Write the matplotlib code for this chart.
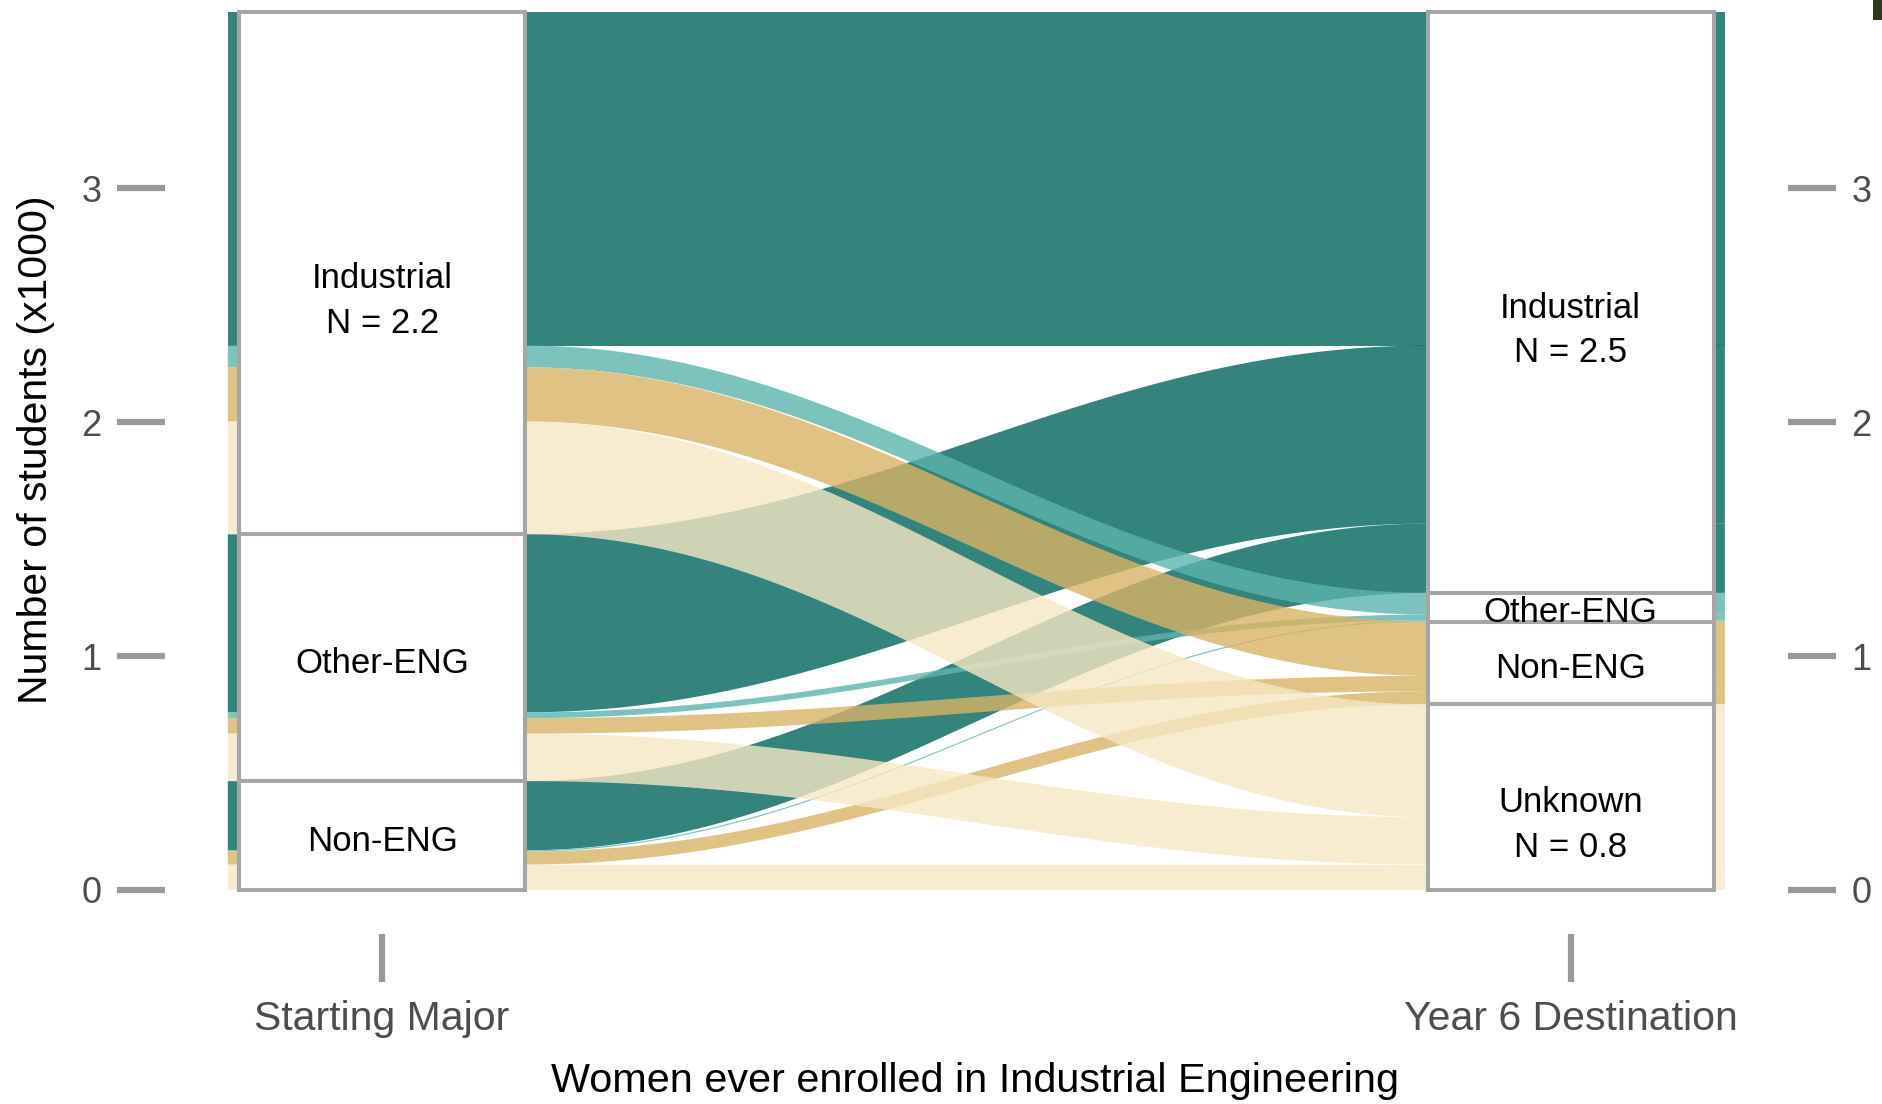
#!/usr/bin/env python3
"""
Alluvial chart: starting major vs. year-6 destination for women
ever enrolled in Industrial Engineering.
"""

import numpy as np
import matplotlib
matplotlib.use("Agg")
import matplotlib.pyplot as plt
from matplotlib.patches import Rectangle, Polygon

# Data (thousands of students)
axis_labels = ["Starting Major", "Year 6 Destination"]
start_majors = ["Industrial", "Other-ENG", "Non-ENG"]
destinations = ["Industrial", "Other-ENG", "Non-ENG", "Unknown"]

# flows out of each starting major, split by destination (same order as destinations)
from_industrial = [1.427, 0.093, 0.232, 0.482]
from_other_eng = [0.762, 0.025, 0.066, 0.203]
from_non_eng = [0.296, 0.005, 0.056, 0.108]

dest_colors = ["#01665E", "#5AB4AC", "#D8B365", "#F6E8C3"]
labelled_strata = ["Industrial", "Unknown"]
y_ticks = [0, 1, 2, 3]


def stack_from_top(sizes, top):
    """Return tops and bottoms of blocks stacked downward from `top`."""
    sizes = np.asarray(sizes, dtype=float)
    tops = top - np.concatenate([[0.0], np.cumsum(sizes)[:-1]])
    return tops, tops - sizes


def bezier(p0, p1, p2, p3, t):
    return ((1 - t) ** 3) * p0 + 3 * ((1 - t) ** 2) * t * p1 \
        + 3 * (1 - t) * t ** 2 * p2 + t ** 3 * p3


def ribbon(x_in, x_out, knot, yl_top, yl_bot, yr_top, yr_bot):
    """Polygon vertices for one flow between the two axes."""
    t = np.linspace(0, 1, 300)
    x0, x1 = x_in
    span = x1 - x0
    xs = bezier(x0, x0 + knot * span, x1 - knot * span, x1, t)
    top = bezier(yl_top, yl_top, yr_top, yr_top, t)
    bot = bezier(yl_bot, yl_bot, yr_bot, yr_bot, t)
    verts = [(x_out[0], yl_top)] + list(zip(xs, top)) + [(x_out[1], yr_top),
             (x_out[1], yr_bot)] + list(zip(xs[::-1], bot[::-1])) + [(x_out[0], yl_bot)]
    return verts


def main():
    plt.rcParams['font.family'] = ['Liberation Sans', 'DejaVu Sans']

    flows = np.array([from_industrial, from_other_eng, from_non_eng])
    total = flows.sum()

    fig = plt.figure(figsize=(18.83, 11.04), dpi=100)
    ax = fig.add_axes([0.0874, 0.154, 0.8622, 0.846])

    half_w = 0.1203   # half width of a stratum box
    strip = 0.0095    # coloured lode strip outside the box
    x_in = (1 + half_w, 2 - half_w)
    x_out = (1 - half_w - strip, 2 + half_w + strip)

    src_tops, src_bots = stack_from_top(flows.sum(axis=1), total)
    dst_tops, dst_bots = stack_from_top(flows.sum(axis=0), total)

    left = [stack_from_top(flows[i], src_tops[i]) for i in range(len(start_majors))]
    right = [stack_from_top(flows[:, j], dst_tops[j]) for j in range(len(destinations))]

    # flows, drawn destination by destination
    for j, color in enumerate(dest_colors):
        for i in range(len(start_majors)):
            verts = ribbon(x_in, x_out, 0.38,
                           left[i][0][j], left[i][1][j],
                           right[j][0][i], right[j][1][i])
            ax.add_patch(Polygon(verts, closed=True, facecolor=color,
                                 edgecolor='none', alpha=0.8, zorder=2))

    # strata boxes and labels
    box_kw = dict(facecolor='white', edgecolor='#A6A6A6', linewidth=2.9, zorder=3)
    line_gap = 0.19
    nudge = 0.024
    for xc, names, tops, bots in [(1, start_majors, src_tops, src_bots),
                                  (2, destinations, dst_tops, dst_bots)]:
        for name, top, bot in zip(names, tops, bots):
            ax.add_patch(Rectangle((xc - half_w, bot), 2 * half_w, top - bot, **box_kw))
            yc = (top + bot) / 2 - nudge
            ax.text(xc, yc, name, ha='center', va='center', fontsize=25,
                    color='black', zorder=4)
            if name in labelled_strata:
                ax.text(xc, yc - line_gap, f"N = {top - bot:.1f}", ha='center',
                        va='center', fontsize=25, color='black', zorder=4)

    ax.set_xlim(0.817, 2.183)
    ax.set_ylim(-0.189, 3.806)
    for side in ax.spines.values():
        side.set_visible(False)

    ax.set_xticks([1, 2])
    ax.set_xticklabels(axis_labels)
    ax.set_yticks(y_ticks)
    ax.set_yticklabels([str(v) for v in y_ticks])
    ax.tick_params(axis='both', length=34.6, width=4.5, color='#999999',
                   labelcolor='#4D4D4D')
    ax.tick_params(axis='y', labelsize=26, pad=11, right=True, labelright=True)
    ax.tick_params(axis='x', labelsize=29.5, pad=12.6)

    fig.text(0.518, 0.0212, "Women ever enrolled in Industrial Engineering",
             ha='center', va='center', fontsize=29.8, color='black')
    fig.text(0.0191, 1 - 450 / 1104, "Number of students (x1000)", rotation=90,
             ha='center', va='center', fontsize=29.5, color='black')

    # small dark mark in the top-right corner of the original image
    fig.patches.append(Rectangle((1873 / 1883, 1 - 20 / 1104), 10 / 1883, 20 / 1104,
                                 transform=fig.transFigure, facecolor='#2E3A1E',
                                 edgecolor='none'))

    fig.savefig("out.png", dpi=100)


if __name__ == "__main__":
    main()
